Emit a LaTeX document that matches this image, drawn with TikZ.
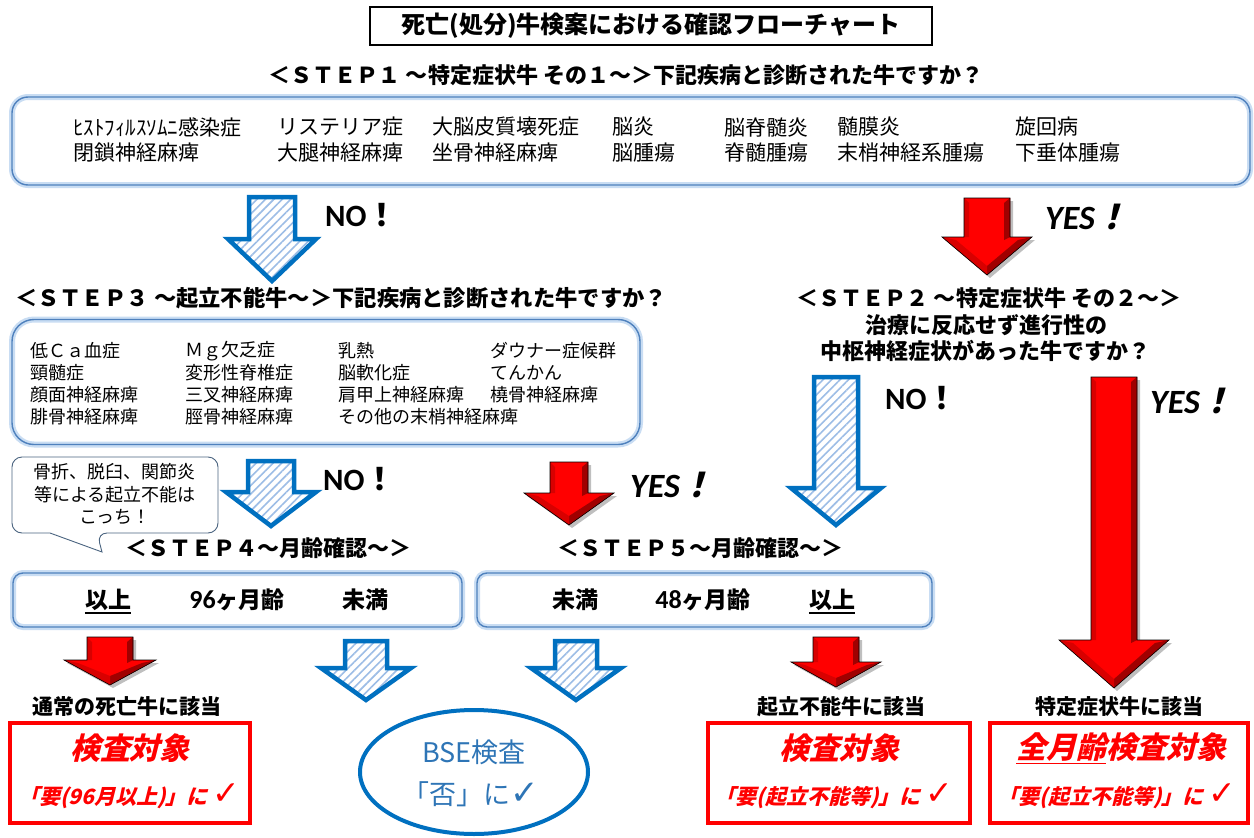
\documentclass[tikz,border=0pt]{standalone}
\usepackage{fontspec}
\setmainfont{Noto Sans CJK JP}
\newfontfamily\jpsl[FakeSlant=0.25]{Noto Sans CJK JP}
\newfontfamily\lat{Carlito}
\newfontfamily\sym{DejaVu Sans}
\usetikzlibrary{patterns.meta,shapes.geometric}
\definecolor{bblue}{HTML}{0070C0}
\definecolor{hatchc}{HTML}{9DBDE6}
\definecolor{boxblue}{HTML}{4F81BD}
\definecolor{glow}{HTML}{C9DDF3}
\definecolor{rred}{HTML}{FF0000}
\definecolor{dred}{HTML}{A00000}
\definecolor{mred}{HTML}{D80000}
\definecolor{bsetext}{HTML}{2E75B6}
\definecolor{callc}{HTML}{4A6480}
\tikzset{
  bluebox/.style={draw=boxblue, line width=1.4pt, preaction={draw=glow, line width=6pt}},
  redbox/.style={draw=rred, line width=4pt, inner sep=0},
  stepline/.style={font=\bfseries\fontsize{22}{22}\selectfont, inner sep=0},
  listA/.style={font=\fontsize{21}{21}\selectfont, anchor=west, inner sep=0},
  listB/.style={font=\fontsize{18}{18}\selectfont, anchor=west, inner sep=0},
  agetext/.style={font=\bfseries\fontsize{23}{23}\selectfont, inner sep=0},
  gaitou/.style={font=\bfseries\fontsize{21}{21}\selectfont, inner sep=0},
  bigred/.style={font=\jpsl\bfseries\fontsize{30}{30}\selectfont, text=rred, inner sep=0},
  smallred/.style={font=\jpsl\bfseries\fontsize{21}{21}\selectfont, text=rred, inner sep=0},
  notext/.style={font=\lat\bfseries\fontsize{31}{31}\selectfont, anchor=west, inner sep=0},
  yestext/.style={font=\lat\bfseries\itshape\fontsize{34}{34}\selectfont, anchor=west, inner sep=0},
  bluearrow/.style={draw=bblue, line width=4.5pt, line join=miter, preaction={fill=white},
    pattern={Lines[angle=45,distance=6pt,line width=1.6pt]}, pattern color=hatchc},
}
\newcommand{\BlueArrow}[6]{%
  \draw[bluearrow] (#1-#5,#2) -- (#1+#5,#2) -- (#1+#5,#3) -- (#1+#6,#3) -- (#1,#4) -- (#1-#6,#3) -- (#1-#5,#3) -- cycle;}
\newcommand{\RedArrow}[6]{%
  \fill[black, opacity=0.25] (#1-#5+3,#2+3) -- (#1+#5+3,#2+3) -- (#1+#5+3,#3+3) -- (#1+#6+3,#3+3) -- (#1+3,#4+3) -- (#1-#6+3,#3+3) -- (#1-#5+3,#3+3) -- cycle;
  \fill[rred] (#1-#5,#2) -- (#1+#5,#2) -- (#1+#5,#3) -- (#1+#6,#3) -- (#1,#4) -- (#1-#6,#3) -- (#1-#5,#3) -- cycle;
  \fill[mred] (#1-#5,#2) -- (#1-#5+5,#2+5) -- (#1-#5+5,#3) -- (#1-#5,#3) -- cycle;
  \fill[dred] (#1+#5-6,#2+5) -- (#1+#5,#2) -- (#1+#5,#3) -- (#1+#5-6,#3+3) -- cycle;
  \fill[dred] (#1+#6,#3) -- (#1,#4) -- (#1,#4-9) -- (#1+#6-14,#3+3) -- cycle;
  \fill[mred] (#1-#6,#3) -- (#1,#4) -- (#1,#4-9) -- (#1-#6+14,#3+3) -- cycle;
  \draw[black, line width=0.6pt, line join=miter] (#1-#5,#2) -- (#1+#5,#2) -- (#1+#5,#3) -- (#1+#6,#3) -- (#1,#4) -- (#1-#6,#3) -- (#1-#5,#3) -- cycle;}
\begin{document}
\begin{tikzpicture}[x=1pt, y=-1pt]
\useasboundingbox[fill=white] (0,0) rectangle (1254,838);

% title
\node[draw=black, line width=1.3pt, minimum width=562pt, minimum height=38pt, inner sep=0,
  font=\bfseries\fontsize{24}{24}\selectfont] (title) at (651,26) {死亡(処分)牛検案における確認フローチャート};

% STEP1
\node[stepline] (s1t) at (626,75) {＜ＳＴＥＰ１ ～特定症状牛 その１～＞下記疾病と診断された牛ですか？};
\node[bluebox, rounded corners=16pt, minimum width=1238pt, minimum height=88pt] (s1box) at (631,141) {};
\node[listA] (a11) at (73,127) {ﾋｽﾄﾌｨﾙｽｿﾑﾆ感染症};
\node[listA] (a12) at (277,127) {リステリア症};
\node[listA] (a13) at (432,127) {大脳皮質壊死症};
\node[listA] (a14) at (612,127) {脳炎};
\node[listA] (a15) at (724,127) {脳脊髄炎};
\node[listA] (a16) at (837,127) {髄膜炎};
\node[listA] (a17) at (1015,127) {旋回病};
\node[listA] (a21) at (73,153) {閉鎖神経麻痺};
\node[listA] (a22) at (277,153) {大腿神経麻痺};
\node[listA] (a23) at (432,153) {坐骨神経麻痺};
\node[listA] (a24) at (612,153) {脳腫瘍};
\node[listA] (a25) at (724,153) {脊髄腫瘍};
\node[listA] (a26) at (837,153) {末梢神経系腫瘍};
\node[listA] (a27) at (1015,153) {下垂体腫瘍};

% arrows from STEP1
\BlueArrow{272}{197}{239}{281}{23}{44}
\node[notext] (no1) at (325,215) {NO{\fontspec{Noto Sans CJK JP}\bfseries ！}};
\RedArrow{987}{198}{237}{275}{23}{45}
\node[yestext] (yes1) at (1045,217) {YES{\jpsl\bfseries ！}};

% STEP3
\node[stepline, font=\bfseries\fontsize{22.3}{22}\selectfont] (s3t) at (341,298) {＜ＳＴＥＰ３ ～起立不能牛～＞下記疾病と診断された牛ですか？};
\node[bluebox, rounded corners=22pt, minimum width=628pt, minimum height=125pt] (s3box) at (326,382) {};
\node[listB] (b11) at (30,351) {低Ｃａ血症};
\node[listB] (b12) at (185,351) {Ｍｇ欠乏症};
\node[listB] (b13) at (338,351) {乳熱};
\node[listB] (b14) at (490,351) {ダウナー症候群};
\node[listB] (b21) at (30,373) {頸髄症};
\node[listB] (b22) at (185,373) {変形性脊椎症};
\node[listB] (b23) at (338,373) {脳軟化症};
\node[listB] (b24) at (490,373) {てんかん};
\node[listB] (b31) at (30,395) {顔面神経麻痺};
\node[listB] (b32) at (185,395) {三叉神経麻痺};
\node[listB] (b33) at (338,395) {肩甲上神経麻痺};
\node[listB] (b34) at (490,395) {橈骨神経麻痺};
\node[listB] (b41) at (30,417) {腓骨神経麻痺};
\node[listB] (b42) at (185,417) {脛骨神経麻痺};
\node[listB] (b43) at (338,417) {その他の末梢神経麻痺};

% STEP2
\node[stepline] (s2a) at (989,298) {＜ＳＴＥＰ２ ～特定症状牛 その２～＞};
\node[stepline] (s2b) at (986,325) {治療に反応せず進行性の};
\node[stepline] (s2c) at (985,351) {中枢神経症状があった牛ですか？};

% callout
\draw[callc, line width=0.9pt, fill=white] (12,495) [rounded corners=10pt] |- (218,457) |- (97,533) [sharp corners] -- (102,552) -- (50,533) [rounded corners=10pt] -| (12,495) -- cycle;
\node[align=center, inner sep=0, font=\fontsize{18}{22.5}\selectfont] (call) at (115,494) {骨折、脱臼、関節炎\\等による起立不能は\\こっち！};

% arrows from STEP3 and STEP2
\BlueArrow{271}{461}{492}{526}{23}{45}
\node[notext] (no2) at (323,479) {NO{\fontspec{Noto Sans CJK JP}\bfseries ！}};
\RedArrow{569}{462}{493}{525}{19}{45}
\node[yestext] (yes2) at (630,485) {YES{\jpsl\bfseries ！}};
\BlueArrow{836}{377}{488}{525}{22}{45}
\node[notext] (no3) at (885,398) {NO{\fontspec{Noto Sans CJK JP}\bfseries ！}};
\RedArrow{1114}{377}{640}{688}{23}{55}
\node[yestext] (yes3) at (1150,401) {YES{\jpsl\bfseries ！}};

% STEP4 / STEP5
\node[stepline] (s4t) at (268,548) {＜ＳＴＥＰ４～月齢確認～＞};
\node[stepline] (s5t) at (700,548) {＜ＳＴＥＰ５～月齢確認～＞};
\node[bluebox, rounded corners=10pt, minimum width=449pt, minimum height=54pt] (s4box) at (237.5,600) {};
\node[bluebox, rounded corners=10pt, minimum width=455pt, minimum height=54pt] (s5box) at (704.5,600) {};
\node[agetext] (s4up) at (108,600) {以上};
\draw[line width=2pt] ([yshift=-2pt]s4up.south west) -- ([yshift=-2pt]s4up.south east);
\node[agetext] (s4age) at (237,600) {{\lat\bfseries\fontsize{26}{26}\selectfont 96}ヶ月齢};
\node[agetext] (s4lo) at (365,600) {未満};
\node[agetext] (s5lo) at (575,600) {未満};
\node[agetext] (s5age) at (703,600) {{\lat\bfseries\fontsize{26}{26}\selectfont 48}ヶ月齢};
\node[agetext] (s5up) at (832,600) {以上};
\draw[line width=2pt] ([yshift=-2pt]s5up.south west) -- ([yshift=-2pt]s5up.south east);

% bottom arrows
\RedArrow{110}{637}{660}{685}{23}{46}
\BlueArrow{366}{641}{668}{700}{21}{45}
\BlueArrow{576}{641}{668}{700}{21}{45}
\RedArrow{836}{637}{662}{687}{23}{45}

% results
\node[gaitou] (g1) at (127,707) {通常の死亡牛に該当};
\node[gaitou] (g2) at (841,707) {起立不能牛に該当};
\node[gaitou] (g3) at (1119,707) {特定症状牛に該当};

\node[redbox, minimum width=240pt, minimum height=100pt] (rb1) at (130,773) {};
\node[redbox, minimum width=262pt, minimum height=100pt] (rb2) at (839,773) {};
\node[redbox, minimum width=258pt, minimum height=100pt] (rb3) at (1119,773) {};
\node[bigred] (k1) at (130,748) {検査対象};
\node[smallred] (c1) at (129,796) {「要(96月以上)」に\ {\sym\mdseries\fontsize{33}{33}\selectfont ✓}};
\node[bigred] (k2) at (839,748) {検査対象};
\node[smallred] (c2) at (834,796) {「要(起立不能等)」に\ {\sym\mdseries\fontsize{33}{33}\selectfont ✓}};
\node[bigred] (k3) at (1121,748) {\underline{全月齢}検査対象};
\node[smallred] (c3) at (1117,796) {「要(起立不能等)」に\ {\sym\mdseries\fontsize{33}{33}\selectfont ✓}};

\node[draw=bblue, line width=4pt, ellipse, minimum width=228pt, minimum height=124pt, inner sep=0] (bse) at (474,772) {};
\node[inner sep=0, text=bsetext, font=\fontsize{27}{27}\selectfont] (bse1) at (474,752) {BSE検査};
\node[inner sep=0, text=bsetext, font=\fontsize{27}{27}\selectfont] (bse2) at (471,794) {「否」に{\sym\fontsize{34}{34}\selectfont ✓}};
\end{tikzpicture}
\end{document}
